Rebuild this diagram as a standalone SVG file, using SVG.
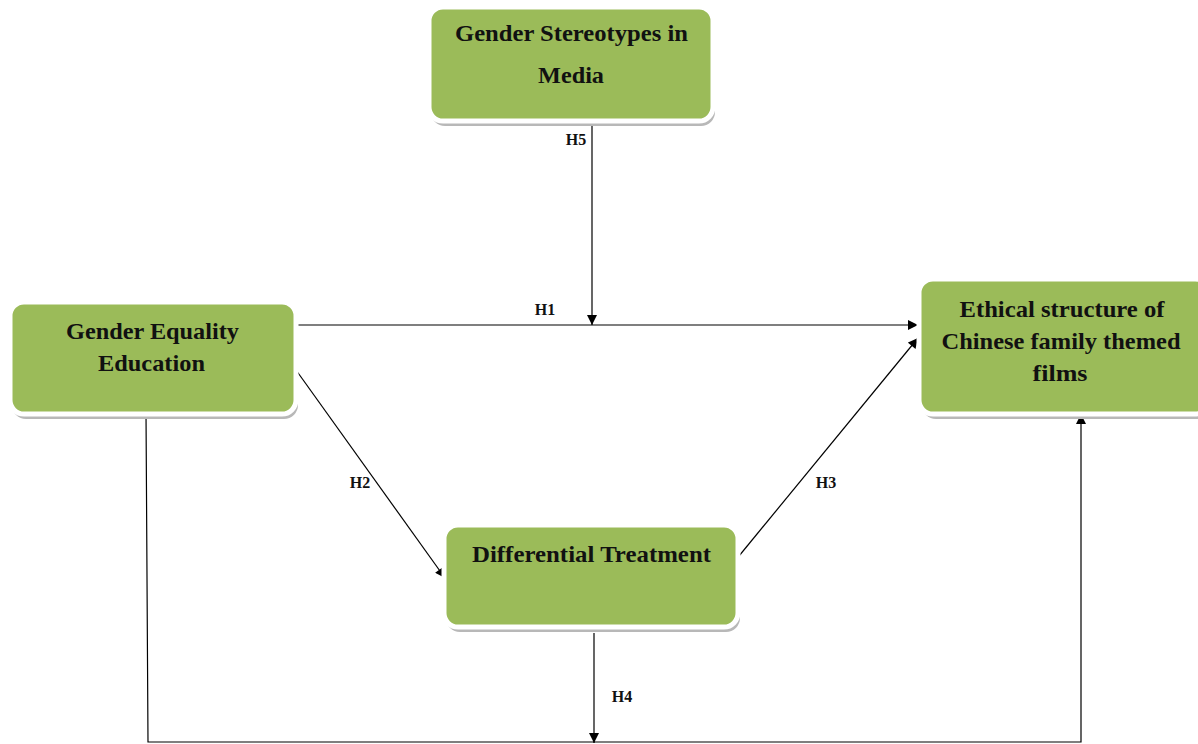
<svg xmlns="http://www.w3.org/2000/svg" width="1198" height="744" viewBox="0 0 1198 744">
<style>
.box{fill:#9BBB59;stroke:#fff;stroke-width:5}
.shadow{fill:#b8b8b8}
.t{font-family:"Liberation Serif","Times New Roman",serif;font-weight:bold;font-size:23px;fill:#111;text-anchor:middle}
.lbl{font-family:"Liberation Serif","Times New Roman",serif;font-weight:bold;font-size:16px;fill:#111;text-anchor:middle}
.c{fill:none;stroke:#000;stroke-width:1.2}
</style>
<defs>
<marker id="ah" viewBox="0 0 10 10" refX="10" refY="5" markerWidth="11" markerHeight="10" markerUnits="userSpaceOnUse" orient="auto">
<path d="M0,0 L10,5 L0,10 z" fill="#000"/>
</marker>
</defs>
<rect width="1198" height="744" fill="#fff"/>
<g id="connectors">
<line class="c" x1="592" y1="124" x2="592" y2="325" marker-end="url(#ah)"/>
<line class="c" x1="296" y1="325" x2="918" y2="325" marker-end="url(#ah)"/>
<line class="c" x1="296" y1="370" x2="445" y2="578" marker-end="url(#ah)"/>
<line class="c" x1="739" y1="556" x2="918" y2="338" marker-end="url(#ah)"/>
<line class="c" x1="594" y1="633" x2="594" y2="743" marker-end="url(#ah)"/>
<polyline class="c" points="146,412 148,742 1081,742 1081,414" marker-end="url(#ah)"/>
<text class="lbl" x="576" y="145">H5</text>
<text class="lbl" x="545" y="315">H1</text>
<text class="lbl" x="360" y="488">H2</text>
<text class="lbl" x="826" y="488">H3</text>
<text class="lbl" x="622" y="702">H4</text>
</g>
<g id="n-stereotypes">
<rect class="shadow" x="431" y="12" width="284" height="114" rx="14"/>
<rect class="box" x="429" y="7" width="284" height="114" rx="14"/>
<text class="t" x="571.5" y="41" textLength="233" lengthAdjust="spacingAndGlyphs">Gender Stereotypes in</text>
<text class="t" x="571" y="83" textLength="66" lengthAdjust="spacingAndGlyphs">Media</text>
</g>
<g id="n-equality">
<rect class="shadow" x="12" y="307" width="286" height="112" rx="14"/>
<rect class="box" x="10" y="302" width="286" height="112" rx="14"/>
<text class="t" x="152.5" y="339" textLength="173" lengthAdjust="spacingAndGlyphs">Gender Equality</text>
<text class="t" x="151.5" y="371" textLength="107" lengthAdjust="spacingAndGlyphs">Education</text>
</g>
<g id="n-ethical">
<rect class="shadow" x="922" y="284" width="290" height="135" rx="14"/>
<rect class="box" x="919" y="279" width="290" height="135" rx="14"/>
<text class="t" x="1062" y="317" textLength="205" lengthAdjust="spacingAndGlyphs">Ethical structure of</text>
<text class="t" x="1061" y="349" textLength="239" lengthAdjust="spacingAndGlyphs">Chinese family themed</text>
<text class="t" x="1060" y="381" textLength="55" lengthAdjust="spacingAndGlyphs">films</text>
</g>
<g id="n-differential">
<rect class="shadow" x="446" y="530" width="294" height="102" rx="14"/>
<rect class="box" x="444" y="525" width="294" height="102" rx="14"/>
<text class="t" x="591.5" y="562" textLength="239" lengthAdjust="spacingAndGlyphs">Differential Treatment</text>
</g>
</svg>
